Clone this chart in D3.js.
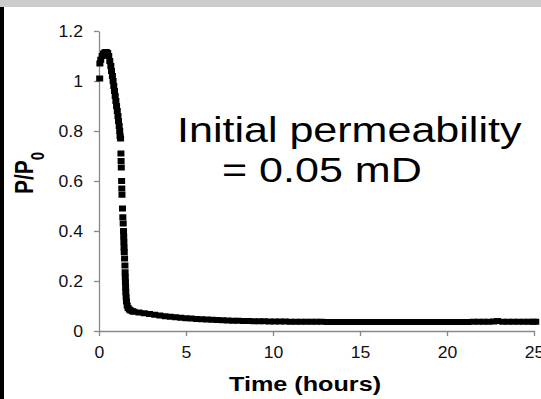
<!DOCTYPE html>
<html>
<head>
<meta charset="utf-8">
<script src="https://cdn.jsdelivr.net/npm/d3@7"></script>
<style>
  body { margin: 0; background: #fff; }
  text { font-family: "Liberation Sans", Arial, sans-serif; }
</style>
</head>
<body>
<div id="chart"></div>
<script>
// data: time in hours, P/P0
let timeHours = [
  0.04, 0.05, 0.10, 0.18, 0.26, 0.34, 0.42, 0.50, 0.56, 0.62, 0.68, 0.72, 0.77, 0.81, 0.85, 0.89,
  0.93, 0.97, 1.01, 1.05, 1.09, 1.12, 1.16, 1.19, 1.21,
  1.24, 1.26, 1.27, 1.28, 1.30, 1.31, 1.32, 1.35, 1.37, 1.39, 1.41, 1.42, 1.43, 1.44, 1.45,
  1.47, 1.49, 1.50, 1.51, 1.52, 1.53, 1.54, 1.56, 1.58, 1.62, 1.67, 1.74, 1.82, 1.92,
  2.0, 2.3, 2.6, 2.9, 3.2, 3.5, 3.8, 4.1, 4.4, 4.7, 5.0, 5.3, 5.6, 5.9, 6.2, 6.5, 6.8, 7.1,
  7.4, 7.7, 8.0, 8.3, 8.6, 8.9, 9.2, 9.5, 9.8, 10.1, 10.4, 10.7, 11.0, 11.3, 11.6, 11.9,
  12.2, 12.5, 12.8, 13.1, 13.4, 13.7, 14.0, 14.3, 14.6, 14.9, 15.2, 15.5, 15.8, 16.1, 16.4,
  16.7, 17.0, 17.3, 17.6, 17.9, 18.2, 18.5, 18.8, 19.1, 19.4, 19.7, 20.0, 20.3, 20.6, 20.9,
  21.2, 21.5, 21.8, 22.1, 22.4, 22.7, 22.9, 23.2, 23.5, 23.8, 24.1, 24.4, 24.7, 24.95, 25.1
];
let permRatio = [
  1.01, 1.07, 1.085, 1.10, 1.11, 1.115, 1.116, 1.112, 1.10, 1.08, 1.06, 1.04, 1.02, 1.00, 0.98, 0.96,
  0.94, 0.92, 0.90, 0.88, 0.86, 0.84, 0.82, 0.80, 0.78,
  0.77, 0.71, 0.68, 0.654, 0.60, 0.57, 0.545, 0.49, 0.455, 0.43, 0.40, 0.378, 0.356, 0.334, 0.316,
  0.29, 0.262, 0.235, 0.215, 0.195, 0.175, 0.155, 0.135, 0.118, 0.102, 0.092, 0.086, 0.082, 0.079,
  0.077, 0.074, 0.071, 0.068, 0.065, 0.062, 0.059, 0.057, 0.055, 0.053, 0.051, 0.050, 0.048, 0.047, 0.046, 0.045, 0.044, 0.043,
  0.042, 0.041, 0.041, 0.040, 0.040, 0.039, 0.039, 0.039, 0.038, 0.038, 0.038, 0.038, 0.037, 0.037, 0.037, 0.037,
  0.037, 0.037, 0.037, 0.036, 0.036, 0.036, 0.036, 0.036, 0.036, 0.036, 0.036, 0.036, 0.036, 0.036, 0.036,
  0.036, 0.036, 0.036, 0.036, 0.036, 0.036, 0.036, 0.036, 0.036, 0.036, 0.036, 0.036, 0.036, 0.036, 0.036,
  0.036, 0.037, 0.037, 0.037, 0.037, 0.038, 0.040, 0.037, 0.037, 0.037, 0.037, 0.037, 0.037, 0.037, 0.037
];
let xTicks = [0, 5, 10, 15, 20, 25];
let yTicks = [0, 0.2, 0.4, 0.6, 0.8, 1, 1.2];
let annotationLines = ["Initial permeability", "= 0.05 mD"];

let width = 541, height = 399;
let stretch = 1.23; // the original picture is a little wider than tall

let svg = d3.select("#chart").append("svg")
  .attr("width", width)
  .attr("height", height);

// frame bits from the screenshot
svg.append("rect").attr("x", 0).attr("y", 0).attr("width", width).attr("height", 7).attr("fill", "#cccccc");
svg.append("rect").attr("x", 0).attr("y", 7).attr("width", 4).attr("height", height - 7).attr("fill", "#000");

let x = d3.scaleLinear().domain([0, 25]).range([99, 534]);
let y = d3.scaleLinear().domain([0, 1.2]).range([331, 31]);

let axisColor = "#888";

let xAxis = svg.append("g")
  .attr("transform", "translate(0," + y(0) + ")")
  .call(d3.axisBottom(x).tickValues(xTicks).tickSize(5).tickSizeOuter(0).tickPadding(11));
let yAxis = svg.append("g")
  .attr("transform", "translate(" + x(0) + ",0)")
  .call(d3.axisLeft(y).tickValues(yTicks).tickSize(5).tickSizeOuter(0).tickPadding(10)
    .tickFormat(d3.format("~g")));

[xAxis, yAxis].forEach(function(a) {
  a.select(".domain").attr("stroke", axisColor).attr("stroke-width", 1.3);
  a.selectAll(".tick line").attr("stroke", axisColor).attr("stroke-width", 1.3);
  a.selectAll(".tick text")
    .attr("fill", "#111")
    .style("font-size", "16px")
    .style("font-family", "'Liberation Sans', Arial, sans-serif");
});
// widen tick labels like the source picture
xAxis.selectAll(".tick text").attr("transform", "scale(1.1,1)")
  .attr("x", 0);
yAxis.selectAll(".tick text")
  .attr("x", 0)
  .attr("transform", "translate(-16,0) scale(1.1,1)");

// data markers
let pts = timeHours.map(function(t, i) { return { t: t, v: permRatio[i] }; });
let mw = 7, mh = 6;
svg.append("g").selectAll("rect")
  .data(pts)
  .enter()
  .append("rect")
  .attr("x", function(d) { return x(d.t) - mw / 2; })
  .attr("y", function(d) { return y(d.v) - mh / 2; })
  .attr("width", mw)
  .attr("height", mh)
  .attr("fill", "#000");

// axis titles
svg.append("text")
  .attr("transform", "translate(" + 305 + ",391) scale(1.26,1)")
  .attr("text-anchor", "middle")
  .style("font-size", "20px")
  .style("font-weight", "bold")
  .text("Time (hours)");

let yl = svg.append("text")
  .attr("transform", "translate(33,173) rotate(-90) scale(1,1.2)")
  .attr("text-anchor", "middle")
  .style("font-size", "21px")
  .style("font-weight", "bold");
yl.append("tspan").text("P/P");
yl.append("tspan").attr("baseline-shift", "sub").style("font-size", "15px").text("0");

// annotation
svg.append("text")
  .attr("transform", "translate(177,142) scale(" + stretch + ",1)")
  .style("font-size", "35px")
  .text(annotationLines[0]);
svg.append("text")
  .attr("transform", "translate(222,182) scale(" + stretch + ",1)")
  .style("font-size", "35px")
  .text(annotationLines[1]);
</script>
</body>
</html>
